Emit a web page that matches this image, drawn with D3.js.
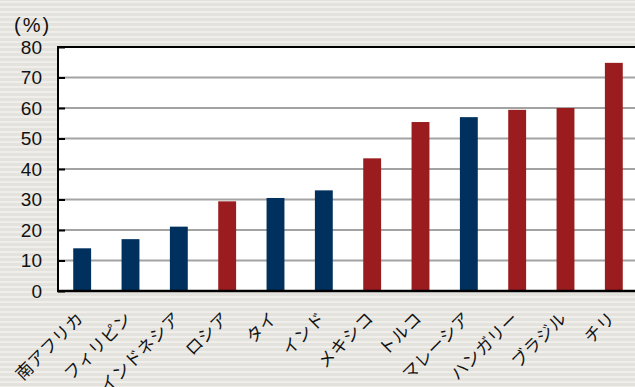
<!DOCTYPE html>
<html>
<head>
<meta charset="utf-8">
<script src="https://cdn.jsdelivr.net/npm/d3@7"></script>
<style>
  html, body { margin: 0; padding: 0; background: #e8e6e1; }
  svg { display: block; }
</style>
</head>
<body>
<div id="chart"></div>
<script>
// data
var countries = ["南アフリカ", "フィリピン", "インドネシア", "ロシア", "タイ", "インド",
                 "メキシコ", "トルコ", "マレーシア", "ハンガリー", "ブラジル", "チリ"];
var values = [14, 17, 21.1, 29.4, 30.5, 33, 43.5, 55.4, 57, 59.4, 60, 74.8];
var groups = ["navy", "navy", "navy", "red", "navy", "navy",
              "red", "red", "navy", "red", "red", "red"];
var yTicks = [0, 10, 20, 30, 40, 50, 60, 70, 80];

var width = 635, height = 387;
var margin = { top: 47, right: -3, bottom: 96, left: 58 };
var colors = { navy: "#00305d", red: "#9a1c1e" };

var svg = d3.select("#chart")
    .append("svg")
    .attr("width", width)
    .attr("height", height);

// striped paper background
var defs = svg.append("defs");
var pat = defs.append("pattern")
    .attr("id", "stripes")
    .attr("width", 10)
    .attr("height", 5)
    .attr("patternUnits", "userSpaceOnUse");
pat.append("rect").attr("width", 10).attr("height", 5).attr("fill", "#e4e2dd");
pat.append("rect").attr("y", 1).attr("width", 10).attr("height", 2).attr("fill", "#efeeea");

svg.append("rect")
    .attr("width", width)
    .attr("height", height)
    .attr("fill", "url(#stripes)");

var x0 = margin.left, x1 = width - margin.right;
var yTop = margin.top, yBot = height - margin.bottom;

var xScale = d3.scaleBand()
    .domain(countries)
    .range([x0, x1])
    .paddingInner(0.63)
    .paddingOuter(0.315);

var yScale = d3.scaleLinear()
    .domain([0, 80])
    .range([yBot, yTop]);

// plot background
svg.append("rect")
    .attr("x", x0)
    .attr("y", yTop)
    .attr("width", x1 - x0)
    .attr("height", yBot - yTop)
    .attr("fill", "#ffffff");

// gridlines
svg.append("g")
    .selectAll("line")
    .data(yTicks.filter(d => d > 0 && d < 80))
    .enter()
    .append("line")
    .attr("x1", x0)
    .attr("x2", x1)
    .attr("y1", d => yScale(d))
    .attr("y2", d => yScale(d))
    .attr("stroke", "#a3a3a3")
    .attr("stroke-width", 2);

// bars
svg.append("g")
    .selectAll("rect")
    .data(countries)
    .enter()
    .append("rect")
    .attr("x", d => xScale(d))
    .attr("y", (d, i) => yScale(values[i]))
    .attr("width", xScale.bandwidth())
    .attr("height", (d, i) => yBot - yScale(values[i]))
    .attr("fill", (d, i) => colors[groups[i]]);

// y axis with inward ticks
var yAxis = svg.append("g")
    .attr("transform", "translate(" + x0 + ",0)")
    .call(d3.axisLeft(yScale).tickValues(yTicks).tickSize(-7).tickPadding(16));
yAxis.select(".domain").remove();
yAxis.selectAll("line").attr("stroke", "#000").attr("stroke-width", 2);
yAxis.selectAll("text")
    .attr("fill", "#111")
    .style("font-family", "'Liberation Sans', Arial, sans-serif")
    .style("font-size", "19px");

// frame lines
svg.append("line").attr("x1", x0).attr("x2", x0).attr("y1", yTop - 1).attr("y2", yBot + 1)
    .attr("stroke", "#000").attr("stroke-width", 2);
svg.append("line").attr("x1", x0 - 1).attr("x2", x1).attr("y1", yBot).attr("y2", yBot)
    .attr("stroke", "#000").attr("stroke-width", 2.5);
svg.append("line").attr("x1", x0 - 1).attr("x2", x1).attr("y1", yTop).attr("y2", yTop)
    .attr("stroke", "#000").attr("stroke-width", 2);

// category labels
svg.append("g")
    .selectAll("text")
    .data(countries)
    .enter()
    .append("text")
    .attr("transform", d => "translate(" + (xScale(d) + xScale.bandwidth() / 2 - 6) + "," + (yBot + 20) + ") rotate(-45)")
    .attr("text-anchor", "end")
    .attr("dy", "0.7em")
    .attr("letter-spacing", "0.5px")
    .style("font-family", "'Noto Sans CJK JP', sans-serif")
    .style("font-size", "17px")
    .attr("fill", "#111")
    .text(d => d);

// unit label
svg.append("text")
    .attr("x", 14)
    .attr("y", 32)
    .attr("letter-spacing", "2px")
    .style("font-family", "'Liberation Sans', Arial, sans-serif")
    .style("font-size", "20px")
    .attr("fill", "#111")
    .text("(%)");
</script>
</body>
</html>
